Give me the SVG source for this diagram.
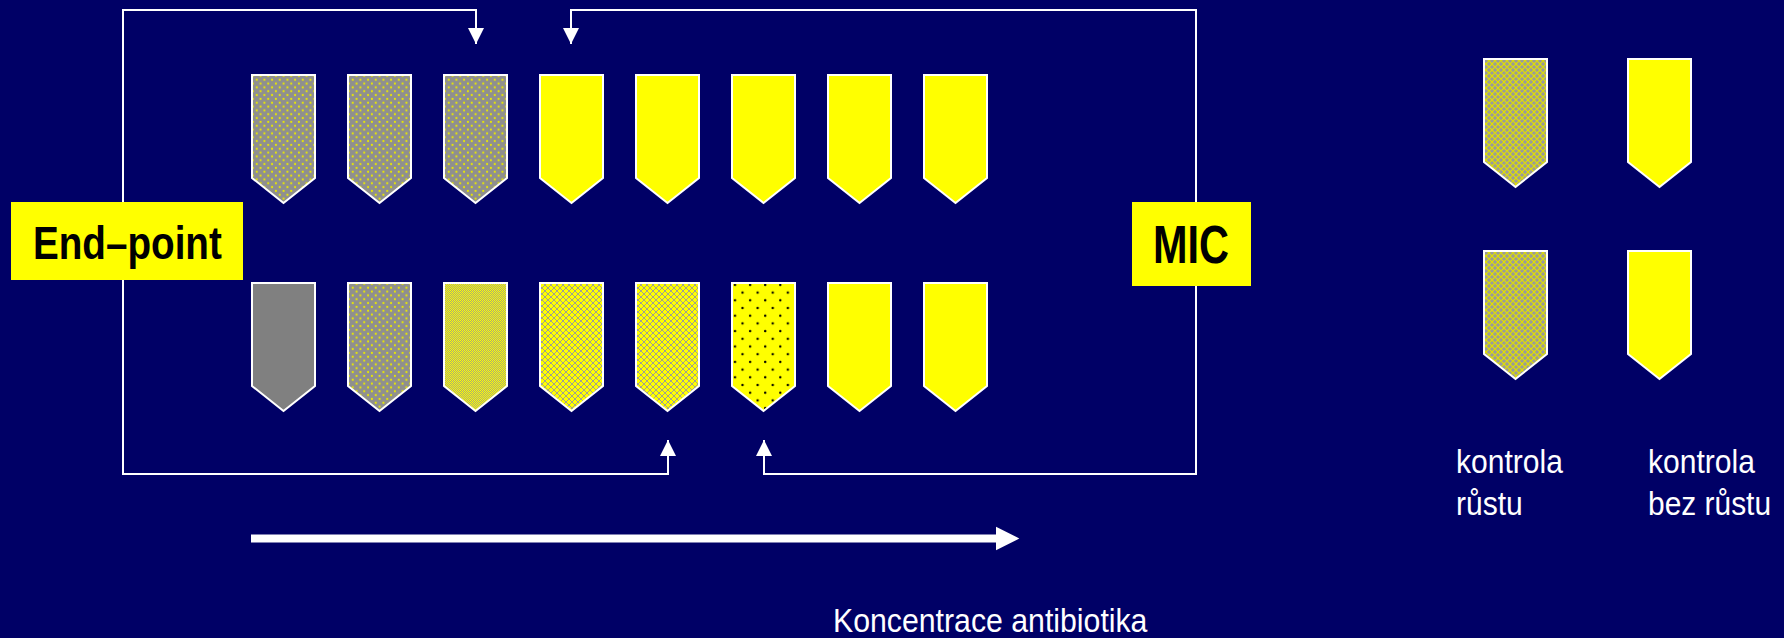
<svg xmlns="http://www.w3.org/2000/svg" xmlns:xlink="http://www.w3.org/1999/xlink" width="1784" height="638" viewBox="0 0 1784 638">
  <style>
    .well { stroke: #ffffff; stroke-width: 2; stroke-linejoin: miter; }
    .link { fill: none; stroke: #ffffff; stroke-width: 2; }
    .tag { fill: #ffff00; }
    .tagtext { font-family: "Liberation Sans", Arial, sans-serif; font-weight: bold; fill: #000000; }
    .note { font-family: "Liberation Sans", Arial, sans-serif; font-size: 34px; fill: #ffffff; }
  </style>
  <defs>
    <!-- well outline: square top, pointed bottom -->
    <path id="well" d="M1,1 H64 V104 L32.5,129 L1,104 Z"/>
    <!-- grey with staggered yellow dots -->
    <pattern id="greyDots" patternUnits="userSpaceOnUse" width="7.67" height="7.67">
      <rect width="7.67" height="7.67" fill="#8f8f8f"/>
      <circle cx="1.9" cy="1.9" r="1.1" fill="#e8e800"/>
      <circle cx="5.75" cy="5.75" r="1.1" fill="#e8e800"/>
    </pattern>
    <!-- fine yellow/grey check -->
    <pattern id="fineCheck" patternUnits="userSpaceOnUse" width="2" height="2">
      <rect width="2" height="2" fill="#ffff00"/>
      <rect x="0" y="0" width="1" height="1" fill="#a8a878"/>
      <rect x="1" y="1" width="1" height="1" fill="#a8a878"/>
    </pattern>
    <!-- yellow with grey diamond lattice -->
    <pattern id="latticeY" patternUnits="userSpaceOnUse" width="6" height="6">
      <rect width="6" height="6" fill="#ffff00"/>
      <path d="M0,3 L3,0 L6,3 L3,6 Z" fill="none" stroke="#a0a090" stroke-width="1"/>
    </pattern>
    <!-- grey with yellow diamond lattice -->
    <pattern id="latticeG" patternUnits="userSpaceOnUse" width="6" height="6">
      <rect width="6" height="6" fill="#9a9a9a"/>
      <path d="M0,3 L3,0 L6,3 L3,6 Z" fill="none" stroke="#e0e000" stroke-width="1.1"/>
    </pattern>
    <!-- yellow with sparse black dots -->
    <pattern id="blackDots" patternUnits="userSpaceOnUse" width="15.1" height="15.4">
      <rect width="15.1" height="15.4" fill="#ffff00"/>
      <circle cx="4" cy="3" r="1.2" fill="#000000"/>
      <circle cx="11.55" cy="10.7" r="1.2" fill="#000000"/>
    </pattern>
    <marker id="head" markerUnits="userSpaceOnUse" markerWidth="16" markerHeight="16" viewBox="0 0 15 15" refX="15" refY="7.5" orient="auto">
      <path d="M0,0 L15,7.5 L0,15 Z" fill="#ffffff"/>
    </marker>
  </defs>

  <rect width="1784" height="638" fill="#000066"/>

  <!-- connectors -->
  <g id="connectors">
    <path class="link" d="M123,202 V10 H476 V44" marker-end="url(#head)"/>
    <path class="link" d="M123,280 V474 H668 V440" marker-end="url(#head)"/>
    <path class="link" d="M1196,202 V10 H571 V44" marker-end="url(#head)"/>
    <path class="link" d="M1196,286 V474 H764 V440" marker-end="url(#head)"/>
    <line x1="251" y1="538.5" x2="998" y2="538.5" stroke="#ffffff" stroke-width="8"/>
    <polygon points="996,526.7 1019.3,538.5 996,550.3" fill="#ffffff"/>
  </g>

  <!-- upper row of wells -->
  <g id="row1">
    <use id="w1-1" href="#well" xlink:href="#well" class="well" fill="url(#greyDots)" transform="translate(251,74)"/>
    <use id="w1-2" href="#well" xlink:href="#well" class="well" fill="url(#greyDots)" transform="translate(347,74)"/>
    <use id="w1-3" href="#well" xlink:href="#well" class="well" fill="url(#greyDots)" transform="translate(443,74)"/>
    <use id="w1-4" href="#well" xlink:href="#well" class="well" fill="#ffff00" transform="translate(539,74)"/>
    <use id="w1-5" href="#well" xlink:href="#well" class="well" fill="#ffff00" transform="translate(635,74)"/>
    <use id="w1-6" href="#well" xlink:href="#well" class="well" fill="#ffff00" transform="translate(731,74)"/>
    <use id="w1-7" href="#well" xlink:href="#well" class="well" fill="#ffff00" transform="translate(827,74)"/>
    <use id="w1-8" href="#well" xlink:href="#well" class="well" fill="#ffff00" transform="translate(923,74)"/>
  </g>

  <!-- lower row of wells -->
  <g id="row2">
    <use id="w2-1" href="#well" xlink:href="#well" class="well" fill="#808080" transform="translate(251,282)"/>
    <use id="w2-2" href="#well" xlink:href="#well" class="well" fill="url(#greyDots)" transform="translate(347,282)"/>
    <use id="w2-3" href="#well" xlink:href="#well" class="well" fill="url(#fineCheck)" transform="translate(443,282)"/>
    <use id="w2-4" href="#well" xlink:href="#well" class="well" fill="url(#latticeY)" transform="translate(539,282)"/>
    <use id="w2-5" href="#well" xlink:href="#well" class="well" fill="url(#latticeY)" transform="translate(635,282)"/>
    <use id="w2-6" href="#well" xlink:href="#well" class="well" fill="url(#blackDots)" transform="translate(731,282)"/>
    <use id="w2-7" href="#well" xlink:href="#well" class="well" fill="#ffff00" transform="translate(827,282)"/>
    <use id="w2-8" href="#well" xlink:href="#well" class="well" fill="#ffff00" transform="translate(923,282)"/>
  </g>

  <!-- labels (condensed type drawn with a horizontal scale) -->
  <g id="endpoint">
    <rect class="tag" x="11" y="202" width="232" height="78"/>
    <text class="tagtext" font-size="47" transform="translate(33,259) scale(0.822,1)">End–point</text>
  </g>
  <g id="mic">
    <rect class="tag" x="1132" y="202" width="119" height="84"/>
    <text class="tagtext" font-size="54" transform="translate(1153,263) scale(0.768,1)">MIC</text>
  </g>

  <!-- controls -->
  <g id="control-growth">
    <use href="#well" xlink:href="#well" class="well" fill="url(#latticeG)" transform="translate(1483,58)"/>
    <use href="#well" xlink:href="#well" class="well" fill="url(#latticeG)" transform="translate(1483,250)"/>
    <text class="note" transform="translate(1456,473) scale(0.884,1)">kontrola</text>
    <text class="note" transform="translate(1456,515) scale(0.884,1)">růstu</text>
  </g>
  <g id="control-nogrowth">
    <use href="#well" xlink:href="#well" class="well" fill="#ffff00" transform="translate(1627,58)"/>
    <use href="#well" xlink:href="#well" class="well" fill="#ffff00" transform="translate(1627,250)"/>
    <text class="note" transform="translate(1648,473) scale(0.884,1)">kontrola</text>
    <text class="note" transform="translate(1648,515) scale(0.88,1)">bez růstu</text>
  </g>

  <g id="axis-label">
    <text class="note" transform="translate(833,632) scale(0.89,1)">Koncentrace antibiotika</text>
  </g>
</svg>
